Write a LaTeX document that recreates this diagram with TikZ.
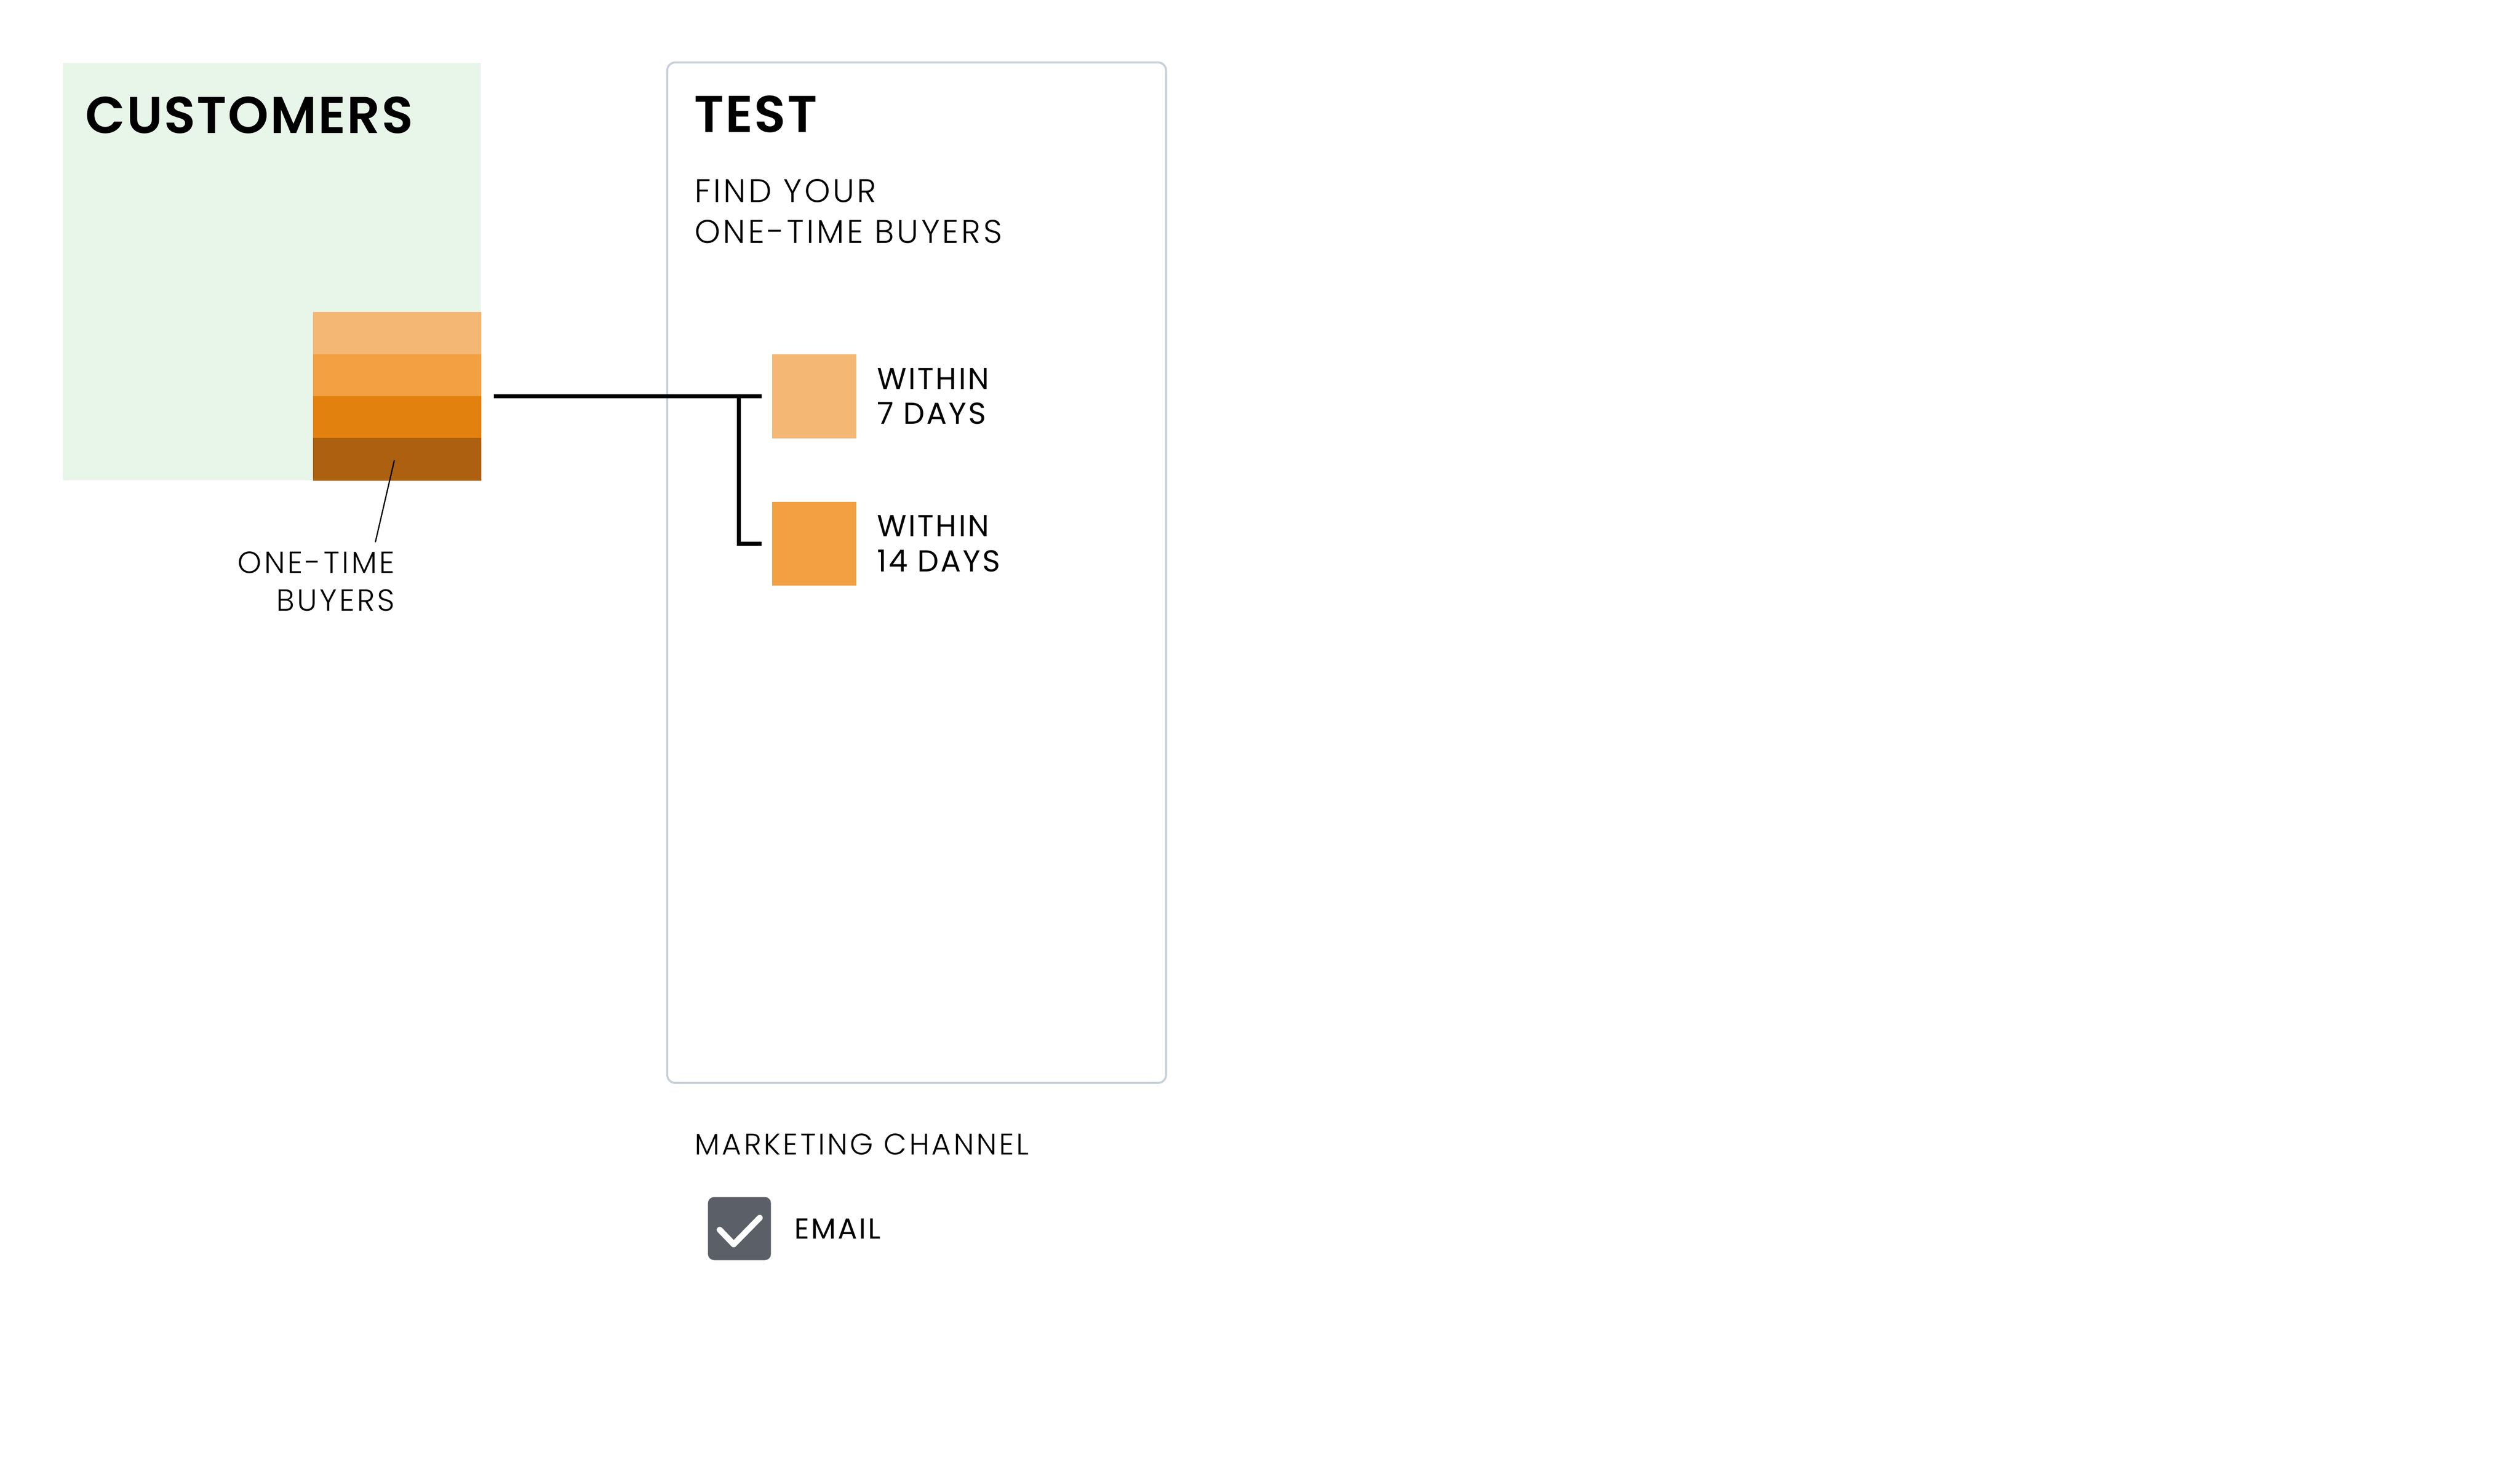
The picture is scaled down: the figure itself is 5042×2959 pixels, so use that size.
\documentclass[tikz,border=0pt]{standalone}
\usepackage{fontspec}
\setmainfont{Poppins}[LetterSpace=6]
\newfontfamily\lightfont{Poppins Light}[LetterSpace=8]
\IfFontExistsTF{Poppins SemiBold}{\newfontfamily\headfont{Poppins SemiBold}[LetterSpace=2.7]}{\newfontfamily\headfont{Poppins}[LetterSpace=2.7]}
\usetikzlibrary{positioning,calc}
\definecolor{custgreen}{RGB}{232,246,234}
\definecolor{orangeA}{RGB}{244,183,116}
\definecolor{orangeB}{RGB}{242,160,65}
\definecolor{orangeC}{RGB}{227,129,15}
\definecolor{orangeD}{RGB}{172,96,16}
\definecolor{panelgray}{RGB}{200,208,216}
\definecolor{checkgray}{RGB}{91,96,104}

\tikzset{
  band/.style={inner sep=0pt, outer sep=0pt, minimum width=67pt, minimum height=16.8pt, fill=#1, draw=#1, line width=0.2pt},
  swatch/.style={inner sep=0pt, minimum size=33.6pt},
  heading/.style={inner sep=0pt, anchor=base west, font=\headfont\fontsize{20.7}{24}\selectfont},
  thin text/.style={inner sep=0pt, font=\lightfont\fontsize{12.2}{15.2}\selectfont},
  day text/.style={inner sep=0pt, align=left, font=\fontsize{12.1}{14}\selectfont},
  link/.style={line width=1.6pt, line join=miter},
}

\begin{document}
\begin{tikzpicture}[x=0.2pt, y=-0.2pt]
        \useasboundingbox (0,0) rectangle (5042,2959);

        % customers
        \fill[custgreen] (126,126) rectangle (962,961);
        \node[heading] (cust) at (170,267) {CUSTOMERS};
        \node[band=orangeA, anchor=north west] (b1) at (627,625) {};
        \node[band=orangeB, below=0pt of b1] (b2) {};
        \node[band=orangeC, below=0pt of b2] (b3) {};
        \node[band=orangeD, below=0pt of b3] (b4) {};

        \node[thin text, align=right, anchor=north east] (otb) at (791,1103) {ONE-TIME\\BUYERS};
        \coordinate (lead) at (789,921);
        \coordinate (leadend) at (751,1085);
        \draw[line width=0.5pt] (lead) -- (leadend);

        % test panel
        \draw[panelgray, line width=0.8pt, rounded corners=3.2pt] (1335,125) rectangle (2333,2167);
        \node[heading] (test) at (1388,265) {TEST};
        \node[thin text, align=left, anchor=north west, font=\lightfont\fontsize{13.1}{16.2}\selectfont] (find) at (1389,358) {FIND YOUR\\ONE-TIME BUYERS};

        \node[swatch, fill=orangeA] (d7) at (1629,793) {};
        \node[swatch, fill=orangeB, below=25pt of d7] (d14) {};
        \node[day text, right=8pt of d7] (t7) {WITHIN\\7 DAYS};
        \node[day text, right=8pt of d14] (t14) {WITHIN\\14 DAYS};

        \coordinate (split) at (1478,793);
        \draw[link] ([xshift=5.2pt]b3.north east) -- ([xshift=-4pt]d7.west);
        \draw[link] (split) |- ([xshift=-4pt]d14.west);

        % channel
        \node[thin text, anchor=base west, font=\lightfont\fontsize{11.9}{14}\selectfont] (chan) at (1389,2311) {MARKETING CHANNEL};
        \node[fill=checkgray, rounded corners=2.4pt, inner sep=0pt, minimum size=25.2pt] (chk) at (1479.5,2458.5) {};
        \draw[white, line width=2.4pt, line cap=round, line join=round] (1440,2461) -- (1468,2490) -- (1520,2437);
        \node[inner sep=0pt, font=\fontsize{11.6}{14}\selectfont, right=9pt of chk] (email) {EMAIL};

      \end{tikzpicture}
\end{document}
